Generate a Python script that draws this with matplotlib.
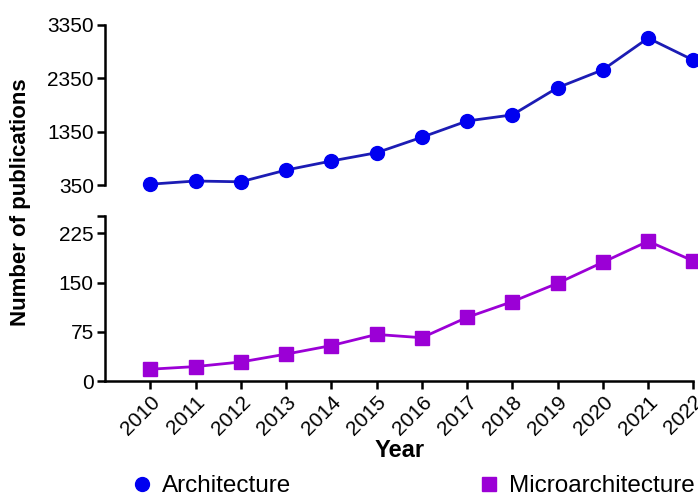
import matplotlib.pyplot as plt

plt.rcParams['font.family'] = ['Liberation Sans', 'DejaVu Sans']

years = [2010, 2011, 2012, 2013, 2014, 2015, 2016, 2017, 2018, 2019, 2020, 2021, 2022]
architecture = [365, 425, 410, 630, 800, 955, 1245, 1550, 1665, 2175, 2510, 3105, 2690]
microarchitecture = [18, 22, 29, 41, 54, 71, 66, 97, 121, 149, 181, 213, 183]

top_ticks = [350, 1350, 2350, 3350]
bottom_ticks = [0, 75, 150, 225]

blue = '#0000f0'
blue_line = '#1c1cb4'
purple = '#9b00d6'

fig = plt.figure(figsize=(6.98, 4.98), dpi=100)
ax1 = fig.add_axes([0.1504, 0.6285, 0.843, 0.3213])
ax2 = fig.add_axes([0.1504, 0.2349, 0.843, 0.332])

for ax in (ax1, ax2):
    ax.spines['top'].set_visible(False)
    ax.spines['right'].set_visible(False)
    ax.spines['left'].set_linewidth(1.8)
    ax.tick_params(axis='both', width=1.8, length=6, labelsize=15, pad=2)
    ax.set_xlim(2009, 2022)

# upper panel (Architecture)
ax1.plot(years, architecture, color=blue_line, lw=2, marker='o', ms=10,
         mfc=blue, mec=blue, clip_on=False, zorder=3)
ax1.set_ylim(350, 3350)
ax1.set_yticks(top_ticks)
ax1.spines['bottom'].set_visible(False)
ax1.tick_params(axis='x', bottom=False, labelbottom=False)

# lower panel (Microarchitecture)
ax2.plot(years, microarchitecture, color=purple, lw=2, marker='s', ms=10,
         mfc=purple, mec=purple, clip_on=False, zorder=3)
ax2.set_ylim(0, 252)
ax2.set_yticks(bottom_ticks)
ax2.set_yticks([252], minor=True)
ax2.tick_params(axis='y', which='minor', width=1.8, length=6)
ax2.spines['bottom'].set_linewidth(1.8)
ax2.set_xticks(years)
ax2.set_xticklabels([str(y) for y in years], rotation=45, ha='right',
                    rotation_mode='anchor', fontsize=15)
ax2.set_xlabel('Year', fontsize=17, fontweight='bold', labelpad=0)

fig.text(0.029, 0.594, 'Number of publications', rotation=90, ha='center',
         va='center', fontsize=16, fontweight='bold')

# legend
fig.legend(handles=[ax1.lines[0], ax2.lines[0]],
           labels=['Architecture', 'Microarchitecture'], loc='center left',
           bbox_to_anchor=(0.176, 0.024), borderaxespad=0, ncol=2,
           frameon=False, fontsize=17.5, handlelength=0.8, handletextpad=0.4,
           columnspacing=7.75)
for h in fig.legends[0].legend_handles:
    h.set_linestyle('none')

fig.savefig('out.png', dpi=100)
